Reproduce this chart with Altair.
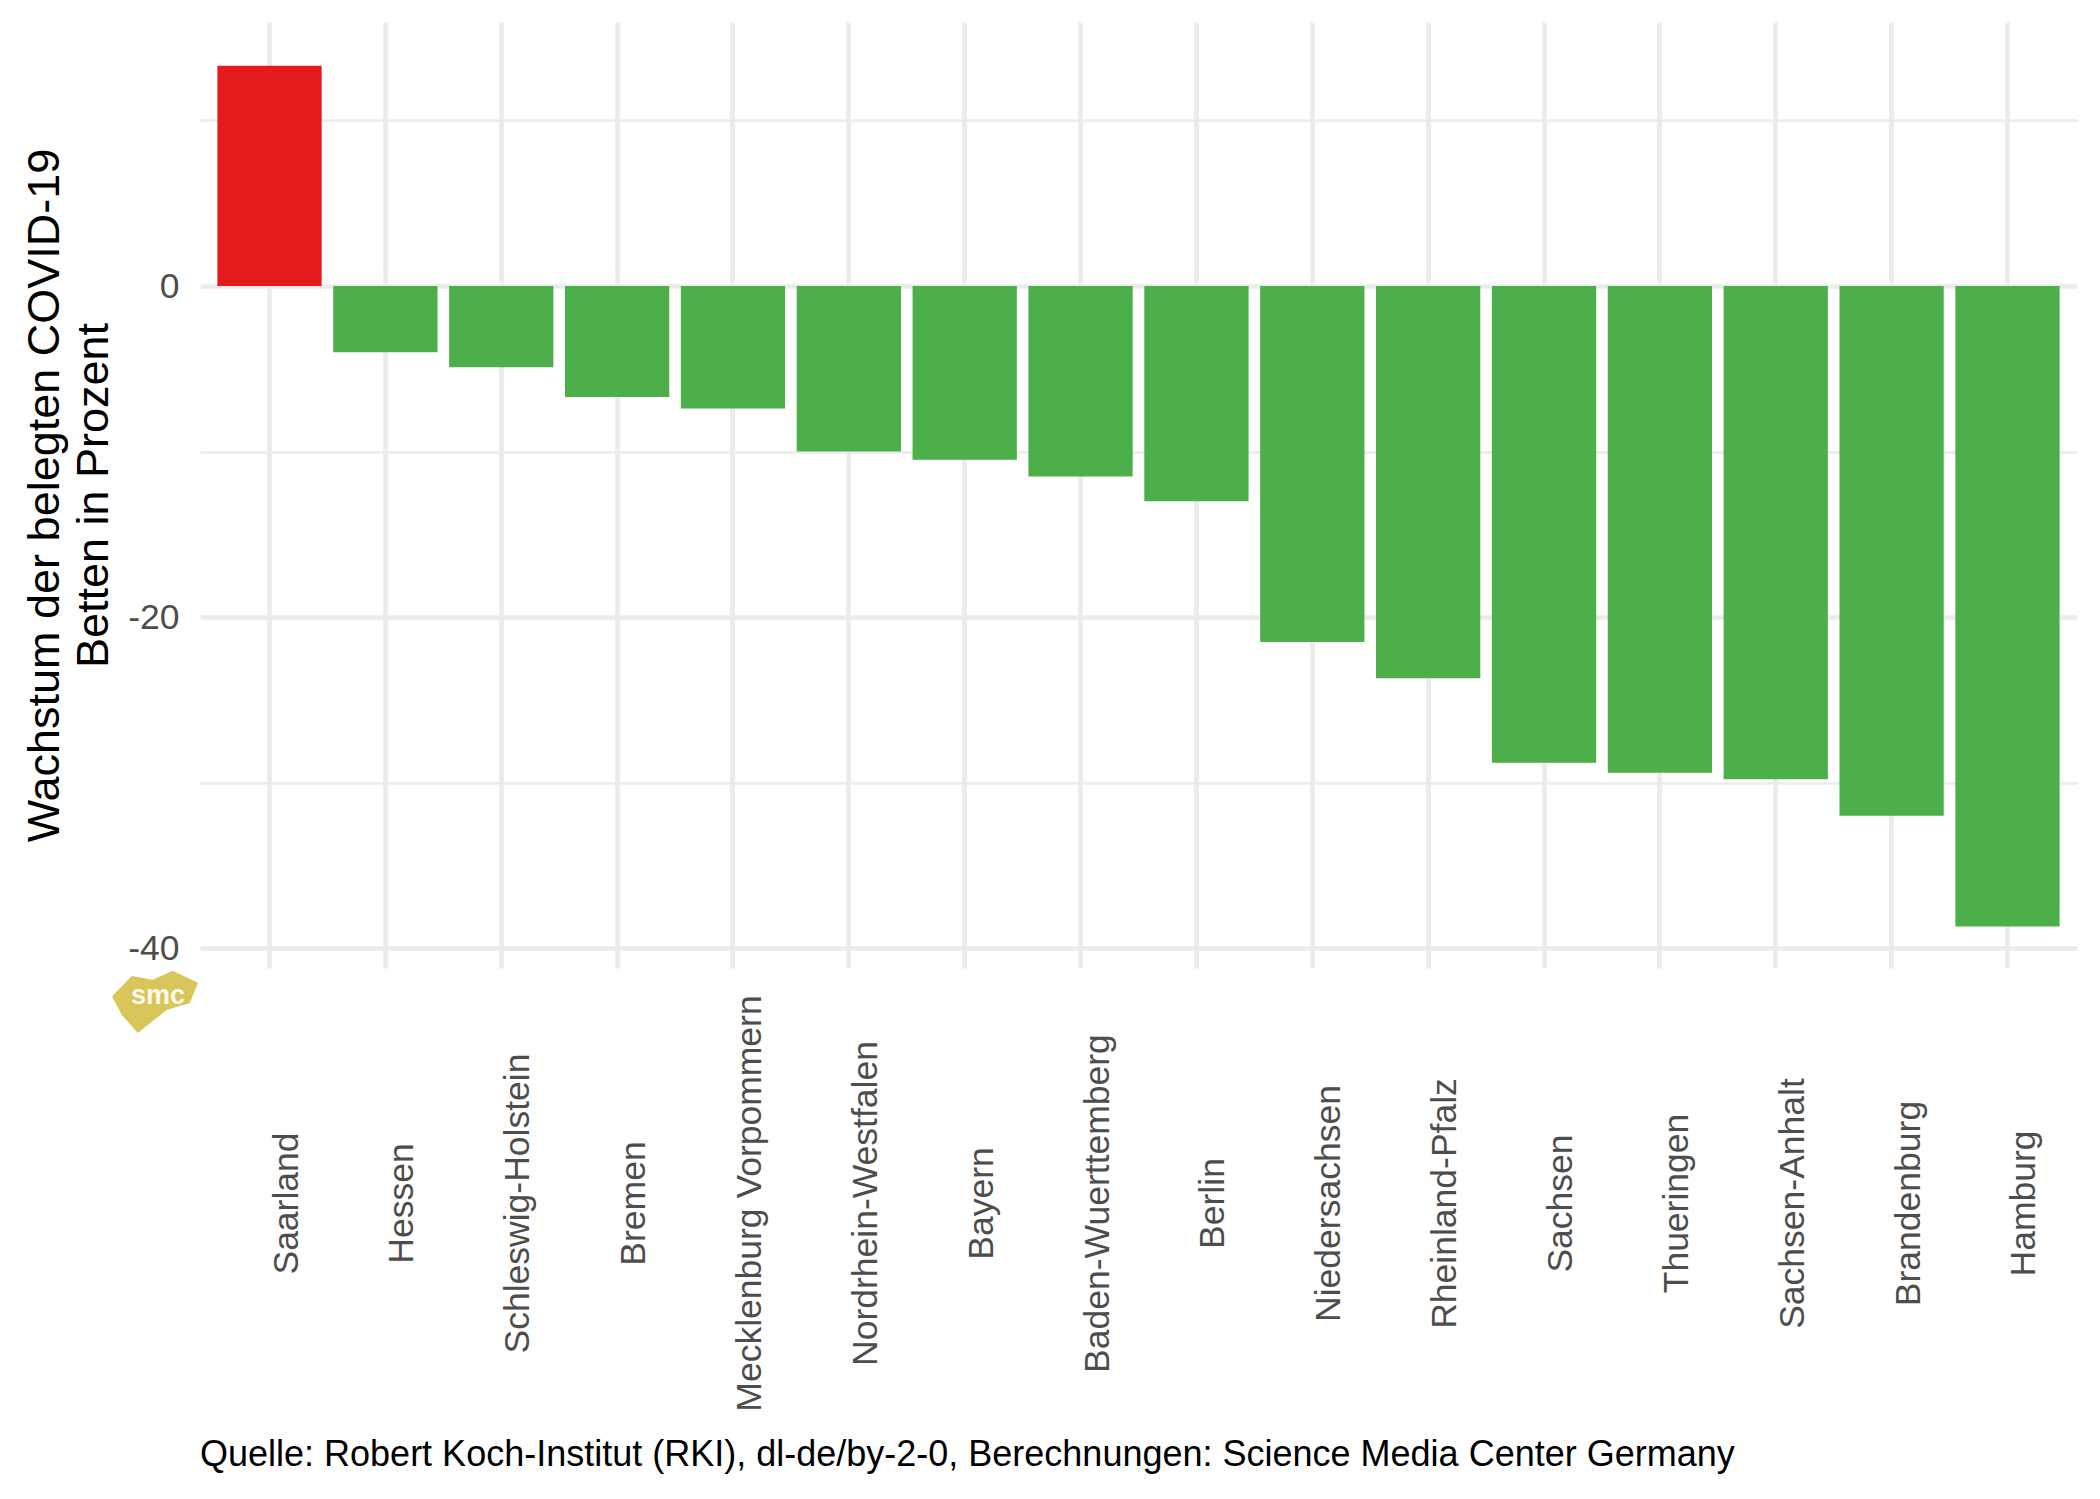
import altair as alt
import pandas as pd

# ---- data ----
laender = [
    "Saarland", "Hessen", "Schleswig-Holstein", "Bremen",
    "Mecklenburg Vorpommern", "Nordrhein-Westfalen", "Bayern",
    "Baden-Wuerttemberg", "Berlin", "Niedersachsen", "Rheinland-Pfalz",
    "Sachsen", "Thueringen", "Sachsen-Anhalt", "Brandenburg", "Hamburg",
]
wachstum = [13.3, -4.0, -4.9, -6.7, -7.4, -10.0, -10.5, -11.5, -13.0,
            -21.5, -23.7, -28.8, -29.4, -29.8, -32.0, -38.7]
y_ticks = [-40, -30, -20, -10, 0, 10]
y_domain = [-41.2, 15.95]
y_title = ["Wachstum der belegten COVID-19", "Betten in Prozent"]
caption = ("Quelle: Robert Koch-Institut (RKI), dl-de/by-2-0, "
           "Berechnungen: Science Media Center Germany")
richtung_domain = ["steigend", "fallend"]
richtung_colors = ["#E41A1C", "#4DAF4A"]
logo_text = ["smc"]

FONT = "Liberation Sans"

df = pd.DataFrame({"Bundesland": laender, "Wachstum": wachstum})
df["Richtung"] = ["steigend" if v > 0 else "fallend" for v in wachstum]

bars = alt.Chart(df).mark_bar().encode(
    x=alt.X(
        "Bundesland:N",
        sort=laender,
        scale=alt.Scale(paddingInner=0.1, paddingOuter=0.15),
        axis=alt.Axis(
            title=None,
            labelAngle=270,
            labelAlign="center",
            labelBaseline="top",
            labelPadding=235,
            labelFontSize=35.5,
            labelFont=FONT,
            labelColor="#4D4D4D",
            labelLimit=1000,
            labelOverlap=False,
            domain=False,
            ticks=False,
            tickSize=0,
            grid=True,
            gridColor="#EBEBEB",
            gridWidth=4.7,
            bandPosition=0.5,
        ),
    ),
    y=alt.Y(
        "Wachstum:Q",
        scale=alt.Scale(domain=y_domain, nice=False),
        axis=alt.Axis(
            values=y_ticks,
            labelExpr="datum.value % 20 === 0 ? '' + datum.value : ''",
            gridColor="#EBEBEB",
            gridWidth={"condition": {"test": "datum.value % 20 === 0", "value": 4.7},
                       "value": 2.35},
            domain=False,
            ticks=False,
            tickSize=0,
            labelPadding=21,
            labelFontSize=35.5,
            labelFont=FONT,
            labelColor="#4D4D4D",
            title=y_title,
            titleFont=FONT,
            titleFontSize=45,
            titleFontWeight="normal",
            titleColor="black",
            titleLineHeight=49,
            titleAngle=270,
            titleAlign="center",
            titleBaseline="middle",
            titleX=-156,
            titleY=473,
        ),
    ),
    y2=alt.datum(0),
    color=alt.Color(
        "Richtung:N",
        scale=alt.Scale(domain=richtung_domain, range=richtung_colors),
        legend=None,
    ),
)

logo_df = pd.DataFrame({"label": logo_text})
logo_shape = ("M -1 -0.08 L -0.54 -0.56 L -0.05 -0.47 L 0.41 -0.68 L 1 -0.4 "
              "L 0.81 0.07 L 0.27 0.23 L -0.4 0.77 L -0.77 0.35 Z")
logo_bg = alt.Chart(logo_df).mark_point(
    shape=logo_shape, filled=True, color="#D8C65A", opacity=1, size=7396
).encode(x=alt.value(-45), y=alt.value(978))
logo_txt = alt.Chart(logo_df).mark_text(
    font=FONT, fontSize=27, fontWeight="bold", color="white", opacity=0.9
).encode(x=alt.value(-42), y=alt.value(974), text="label:N")

chart = alt.layer(bars, logo_bg, logo_txt).properties(
    width=1877,
    height=946,
    autosize=alt.AutoSizeParams(type="none"),
    padding={"left": 192, "top": 14, "right": 15, "bottom": 523},
    title=alt.TitleParams(
        text=caption,
        orient="bottom",
        anchor="start",
        frame="group",
        offset=27,
        fontSize=36,
        font=FONT,
        fontWeight="normal",
        color="black",
    ),
    background="white",
).configure_view(strokeWidth=0)

chart.save("out.html", embed_options={"renderer": "svg", "actions": False})
